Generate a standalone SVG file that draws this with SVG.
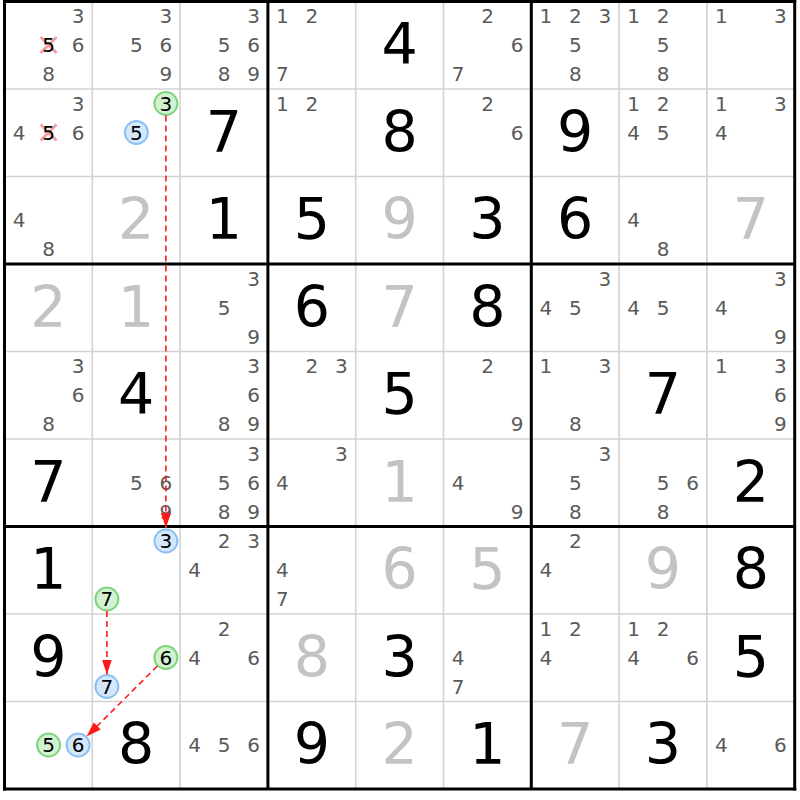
<svg xmlns="http://www.w3.org/2000/svg" width="800" height="800" viewBox="0 0 800 800">
<style>
text{font-family:"DejaVu Sans","Liberation Sans",sans-serif;text-anchor:middle}
.c{font-size:20px;fill:#5a5a5a}
.k{font-size:20px;fill:#000}
.g{font-size:57px;fill:#000}
.s{font-size:57px;fill:#c3c3c3}
.thin{stroke:#d2d2d2;stroke-width:1.6}
.thick{stroke:#000;stroke-width:3}
.gc{fill:#d2f2d2;stroke:#7ed47e;stroke-width:2}
.bc{fill:#d4e7fb;stroke:#8dc0f2;stroke-width:2}
.x{stroke:#f28c8c;stroke-width:2.6;opacity:0.85}
.link{stroke:#ff1a1a;stroke-width:1.6;stroke-dasharray:6 4;fill:none}
</style>
<defs>
<marker id="ah" markerUnits="userSpaceOnUse" markerWidth="15" markerHeight="10" refX="15" refY="5" orient="auto">
<path d="M0,0 L15,5 L0,10 z" fill="#ff1a1a"/>
</marker>
</defs>
<rect x="0" y="0" width="800" height="800" fill="#fff"/>
<g id="grid">
<g class="thin">
<line x1="92.3" y1="1.5" x2="92.3" y2="789"/><line x1="180.1" y1="1.5" x2="180.1" y2="789"/>
<line x1="355.7" y1="1.5" x2="355.7" y2="789"/><line x1="443.5" y1="1.5" x2="443.5" y2="789"/>
<line x1="619.1" y1="1.5" x2="619.1" y2="789"/><line x1="706.9" y1="1.5" x2="706.9" y2="789"/>
<line x1="4.5" y1="89" x2="794.7" y2="89"/><line x1="4.5" y1="176.5" x2="794.7" y2="176.5"/>
<line x1="4.5" y1="351.5" x2="794.7" y2="351.5"/><line x1="4.5" y1="439" x2="794.7" y2="439"/>
<line x1="4.5" y1="614" x2="794.7" y2="614"/><line x1="4.5" y1="701.5" x2="794.7" y2="701.5"/>
</g>
<g class="thick">
<line x1="4.5" y1="0" x2="4.5" y2="790.5"/><line x1="267.9" y1="1.5" x2="267.9" y2="789"/>
<line x1="531.3" y1="1.5" x2="531.3" y2="789"/><line x1="794.7" y1="0" x2="794.7" y2="790.5"/>
<line x1="3" y1="1.5" x2="796.2" y2="1.5"/><line x1="4.5" y1="264" x2="794.7" y2="264"/>
<line x1="4.5" y1="526.5" x2="794.7" y2="526.5"/><line x1="3" y1="789" x2="796.2" y2="789"/>
</g>
</g>

<!-- Row 0 -->
<g id="r0c0" transform="translate(4.5,1.5)"><text class="c" x="73.6" y="21.8">3</text><line class="x" x1="36.1" y1="35.5" x2="52.1" y2="51.5"/><line class="x" x1="52.1" y1="35.5" x2="36.1" y2="51.5"/><text class="k" x="44.1" y="50.8">5</text><text class="c" x="73.6" y="50.8">6</text><text class="c" x="44.1" y="79.8">8</text></g>
<g id="r0c1" transform="translate(92.3,1.5)"><text class="c" x="73.6" y="21.8">3</text><text class="c" x="44.1" y="50.8">5</text><text class="c" x="73.6" y="50.8">6</text><text class="c" x="73.6" y="79.8">9</text></g>
<g id="r0c2" transform="translate(180.1,1.5)"><text class="c" x="73.6" y="21.8">3</text><text class="c" x="44.1" y="50.8">5</text><text class="c" x="73.6" y="50.8">6</text><text class="c" x="44.1" y="79.8">8</text><text class="c" x="73.6" y="79.8">9</text></g>
<g id="r0c3" transform="translate(267.9,1.5)"><text class="c" x="14.6" y="21.8">1</text><text class="c" x="44.1" y="21.8">2</text><text class="c" x="14.6" y="79.8">7</text></g>
<g id="r0c4" transform="translate(355.7,1.5)"><text class="g" x="43.9" y="62.5">4</text></g>
<g id="r0c5" transform="translate(443.5,1.5)"><text class="c" x="44.1" y="21.8">2</text><text class="c" x="73.6" y="50.8">6</text><text class="c" x="14.6" y="79.8">7</text></g>
<g id="r0c6" transform="translate(531.3,1.5)"><text class="c" x="14.6" y="21.8">1</text><text class="c" x="44.1" y="21.8">2</text><text class="c" x="73.6" y="21.8">3</text><text class="c" x="44.1" y="50.8">5</text><text class="c" x="44.1" y="79.8">8</text></g>
<g id="r0c7" transform="translate(619.1,1.5)"><text class="c" x="14.6" y="21.8">1</text><text class="c" x="44.1" y="21.8">2</text><text class="c" x="44.1" y="50.8">5</text><text class="c" x="44.1" y="79.8">8</text></g>
<g id="r0c8" transform="translate(706.9,1.5)"><text class="c" x="14.6" y="21.8">1</text><text class="c" x="73.6" y="21.8">3</text></g>

<!-- Row 1 -->
<g id="r1c0" transform="translate(4.5,89)"><text class="c" x="73.6" y="21.8">3</text><text class="c" x="14.6" y="50.8">4</text><line class="x" x1="36.1" y1="35.5" x2="52.1" y2="51.5"/><line class="x" x1="52.1" y1="35.5" x2="36.1" y2="51.5"/><text class="k" x="44.1" y="50.8">5</text><text class="c" x="73.6" y="50.8">6</text></g>
<g id="r1c1" transform="translate(92.3,89)"><circle class="gc" cx="73.6" cy="14.5" r="11.5"/><text class="k" x="73.6" y="21.8">3</text><circle class="bc" cx="44.1" cy="43.5" r="11.5"/><text class="k" x="44.1" y="50.8">5</text></g>
<g id="r1c2" transform="translate(180.1,89)"><text class="g" x="43.9" y="62.5">7</text></g>
<g id="r1c3" transform="translate(267.9,89)"><text class="c" x="14.6" y="21.8">1</text><text class="c" x="44.1" y="21.8">2</text></g>
<g id="r1c4" transform="translate(355.7,89)"><text class="g" x="43.9" y="62.5">8</text></g>
<g id="r1c5" transform="translate(443.5,89)"><text class="c" x="44.1" y="21.8">2</text><text class="c" x="73.6" y="50.8">6</text></g>
<g id="r1c6" transform="translate(531.3,89)"><text class="g" x="43.9" y="62.5">9</text></g>
<g id="r1c7" transform="translate(619.1,89)"><text class="c" x="14.6" y="21.8">1</text><text class="c" x="44.1" y="21.8">2</text><text class="c" x="14.6" y="50.8">4</text><text class="c" x="44.1" y="50.8">5</text></g>
<g id="r1c8" transform="translate(706.9,89)"><text class="c" x="14.6" y="21.8">1</text><text class="c" x="73.6" y="21.8">3</text><text class="c" x="14.6" y="50.8">4</text></g>

<!-- Row 2 -->
<g id="r2c0" transform="translate(4.5,176.5)"><text class="c" x="14.6" y="50.8">4</text><text class="c" x="44.1" y="79.8">8</text></g>
<g id="r2c1" transform="translate(92.3,176.5)"><text class="s" x="43.9" y="62.5">2</text></g>
<g id="r2c2" transform="translate(180.1,176.5)"><text class="g" x="43.9" y="62.5">1</text></g>
<g id="r2c3" transform="translate(267.9,176.5)"><text class="g" x="43.9" y="62.5">5</text></g>
<g id="r2c4" transform="translate(355.7,176.5)"><text class="s" x="43.9" y="62.5">9</text></g>
<g id="r2c5" transform="translate(443.5,176.5)"><text class="g" x="43.9" y="62.5">3</text></g>
<g id="r2c6" transform="translate(531.3,176.5)"><text class="g" x="43.9" y="62.5">6</text></g>
<g id="r2c7" transform="translate(619.1,176.5)"><text class="c" x="14.6" y="50.8">4</text><text class="c" x="44.1" y="79.8">8</text></g>
<g id="r2c8" transform="translate(706.9,176.5)"><text class="s" x="43.9" y="62.5">7</text></g>

<!-- Row 3 -->
<g id="r3c0" transform="translate(4.5,264)"><text class="s" x="43.9" y="62.5">2</text></g>
<g id="r3c1" transform="translate(92.3,264)"><text class="s" x="43.9" y="62.5">1</text></g>
<g id="r3c2" transform="translate(180.1,264)"><text class="c" x="73.6" y="21.8">3</text><text class="c" x="44.1" y="50.8">5</text><text class="c" x="73.6" y="79.8">9</text></g>
<g id="r3c3" transform="translate(267.9,264)"><text class="g" x="43.9" y="62.5">6</text></g>
<g id="r3c4" transform="translate(355.7,264)"><text class="s" x="43.9" y="62.5">7</text></g>
<g id="r3c5" transform="translate(443.5,264)"><text class="g" x="43.9" y="62.5">8</text></g>
<g id="r3c6" transform="translate(531.3,264)"><text class="c" x="73.6" y="21.8">3</text><text class="c" x="14.6" y="50.8">4</text><text class="c" x="44.1" y="50.8">5</text></g>
<g id="r3c7" transform="translate(619.1,264)"><text class="c" x="14.6" y="50.8">4</text><text class="c" x="44.1" y="50.8">5</text></g>
<g id="r3c8" transform="translate(706.9,264)"><text class="c" x="73.6" y="21.8">3</text><text class="c" x="14.6" y="50.8">4</text><text class="c" x="73.6" y="79.8">9</text></g>

<!-- Row 4 -->
<g id="r4c0" transform="translate(4.5,351.5)"><text class="c" x="73.6" y="21.8">3</text><text class="c" x="73.6" y="50.8">6</text><text class="c" x="44.1" y="79.8">8</text></g>
<g id="r4c1" transform="translate(92.3,351.5)"><text class="g" x="43.9" y="62.5">4</text></g>
<g id="r4c2" transform="translate(180.1,351.5)"><text class="c" x="73.6" y="21.8">3</text><text class="c" x="73.6" y="50.8">6</text><text class="c" x="44.1" y="79.8">8</text><text class="c" x="73.6" y="79.8">9</text></g>
<g id="r4c3" transform="translate(267.9,351.5)"><text class="c" x="44.1" y="21.8">2</text><text class="c" x="73.6" y="21.8">3</text></g>
<g id="r4c4" transform="translate(355.7,351.5)"><text class="g" x="43.9" y="62.5">5</text></g>
<g id="r4c5" transform="translate(443.5,351.5)"><text class="c" x="44.1" y="21.8">2</text><text class="c" x="73.6" y="79.8">9</text></g>
<g id="r4c6" transform="translate(531.3,351.5)"><text class="c" x="14.6" y="21.8">1</text><text class="c" x="73.6" y="21.8">3</text><text class="c" x="44.1" y="79.8">8</text></g>
<g id="r4c7" transform="translate(619.1,351.5)"><text class="g" x="43.9" y="62.5">7</text></g>
<g id="r4c8" transform="translate(706.9,351.5)"><text class="c" x="14.6" y="21.8">1</text><text class="c" x="73.6" y="21.8">3</text><text class="c" x="73.6" y="50.8">6</text><text class="c" x="73.6" y="79.8">9</text></g>

<!-- Row 5 -->
<g id="r5c0" transform="translate(4.5,439)"><text class="g" x="43.9" y="62.5">7</text></g>
<g id="r5c1" transform="translate(92.3,439)"><text class="c" x="44.1" y="50.8">5</text><text class="c" x="73.6" y="50.8">6</text><text class="c" x="73.6" y="79.8">9</text></g>
<g id="r5c2" transform="translate(180.1,439)"><text class="c" x="73.6" y="21.8">3</text><text class="c" x="44.1" y="50.8">5</text><text class="c" x="73.6" y="50.8">6</text><text class="c" x="44.1" y="79.8">8</text><text class="c" x="73.6" y="79.8">9</text></g>
<g id="r5c3" transform="translate(267.9,439)"><text class="c" x="73.6" y="21.8">3</text><text class="c" x="14.6" y="50.8">4</text></g>
<g id="r5c4" transform="translate(355.7,439)"><text class="s" x="43.9" y="62.5">1</text></g>
<g id="r5c5" transform="translate(443.5,439)"><text class="c" x="14.6" y="50.8">4</text><text class="c" x="73.6" y="79.8">9</text></g>
<g id="r5c6" transform="translate(531.3,439)"><text class="c" x="73.6" y="21.8">3</text><text class="c" x="44.1" y="50.8">5</text><text class="c" x="44.1" y="79.8">8</text></g>
<g id="r5c7" transform="translate(619.1,439)"><text class="c" x="44.1" y="50.8">5</text><text class="c" x="73.6" y="50.8">6</text><text class="c" x="44.1" y="79.8">8</text></g>
<g id="r5c8" transform="translate(706.9,439)"><text class="g" x="43.9" y="62.5">2</text></g>

<!-- Row 6 -->
<g id="r6c0" transform="translate(4.5,526.5)"><text class="g" x="43.9" y="62.5">1</text></g>
<g id="r6c1" transform="translate(92.3,526.5)"><circle class="bc" cx="73.6" cy="14.5" r="11.5"/><text class="k" x="73.6" y="21.8">3</text><circle class="gc" cx="14.6" cy="72.5" r="11.5"/><text class="k" x="14.6" y="79.8">7</text></g>
<g id="r6c2" transform="translate(180.1,526.5)"><text class="c" x="44.1" y="21.8">2</text><text class="c" x="73.6" y="21.8">3</text><text class="c" x="14.6" y="50.8">4</text></g>
<g id="r6c3" transform="translate(267.9,526.5)"><text class="c" x="14.6" y="50.8">4</text><text class="c" x="14.6" y="79.8">7</text></g>
<g id="r6c4" transform="translate(355.7,526.5)"><text class="s" x="43.9" y="62.5">6</text></g>
<g id="r6c5" transform="translate(443.5,526.5)"><text class="s" x="43.9" y="62.5">5</text></g>
<g id="r6c6" transform="translate(531.3,526.5)"><text class="c" x="44.1" y="21.8">2</text><text class="c" x="14.6" y="50.8">4</text></g>
<g id="r6c7" transform="translate(619.1,526.5)"><text class="s" x="43.9" y="62.5">9</text></g>
<g id="r6c8" transform="translate(706.9,526.5)"><text class="g" x="43.9" y="62.5">8</text></g>

<!-- Row 7 -->
<g id="r7c0" transform="translate(4.5,614)"><text class="g" x="43.9" y="62.5">9</text></g>
<g id="r7c1" transform="translate(92.3,614)"><circle class="gc" cx="73.6" cy="43.5" r="11.5"/><text class="k" x="73.6" y="50.8">6</text><circle class="bc" cx="14.6" cy="72.5" r="11.5"/><text class="k" x="14.6" y="79.8">7</text></g>
<g id="r7c2" transform="translate(180.1,614)"><text class="c" x="44.1" y="21.8">2</text><text class="c" x="14.6" y="50.8">4</text><text class="c" x="73.6" y="50.8">6</text></g>
<g id="r7c3" transform="translate(267.9,614)"><text class="s" x="43.9" y="62.5">8</text></g>
<g id="r7c4" transform="translate(355.7,614)"><text class="g" x="43.9" y="62.5">3</text></g>
<g id="r7c5" transform="translate(443.5,614)"><text class="c" x="14.6" y="50.8">4</text><text class="c" x="14.6" y="79.8">7</text></g>
<g id="r7c6" transform="translate(531.3,614)"><text class="c" x="14.6" y="21.8">1</text><text class="c" x="44.1" y="21.8">2</text><text class="c" x="14.6" y="50.8">4</text></g>
<g id="r7c7" transform="translate(619.1,614)"><text class="c" x="14.6" y="21.8">1</text><text class="c" x="44.1" y="21.8">2</text><text class="c" x="14.6" y="50.8">4</text><text class="c" x="73.6" y="50.8">6</text></g>
<g id="r7c8" transform="translate(706.9,614)"><text class="g" x="43.9" y="62.5">5</text></g>

<!-- Row 8 -->
<g id="r8c0" transform="translate(4.5,701.5)"><circle class="gc" cx="44.1" cy="43.5" r="11.5"/><text class="k" x="44.1" y="50.8">5</text><circle class="bc" cx="73.6" cy="43.5" r="11.5"/><text class="k" x="73.6" y="50.8">6</text></g>
<g id="r8c1" transform="translate(92.3,701.5)"><text class="g" x="43.9" y="62.5">8</text></g>
<g id="r8c2" transform="translate(180.1,701.5)"><text class="c" x="14.6" y="50.8">4</text><text class="c" x="44.1" y="50.8">5</text><text class="c" x="73.6" y="50.8">6</text></g>
<g id="r8c3" transform="translate(267.9,701.5)"><text class="g" x="43.9" y="62.5">9</text></g>
<g id="r8c4" transform="translate(355.7,701.5)"><text class="s" x="43.9" y="62.5">2</text></g>
<g id="r8c5" transform="translate(443.5,701.5)"><text class="g" x="43.9" y="62.5">1</text></g>
<g id="r8c6" transform="translate(531.3,701.5)"><text class="s" x="43.9" y="62.5">7</text></g>
<g id="r8c7" transform="translate(619.1,701.5)"><text class="g" x="43.9" y="62.5">3</text></g>
<g id="r8c8" transform="translate(706.9,701.5)"><text class="c" x="14.6" y="50.8">4</text><text class="c" x="73.6" y="50.8">6</text></g>

<g id="links">
<line class="link" x1="165.9" y1="115.5" x2="165.9" y2="528" marker-end="url(#ah)"/>
<line class="link" x1="106.9" y1="611" x2="106.9" y2="674.5" marker-end="url(#ah)"/>
<line class="link" x1="157.4" y1="666" x2="86.6" y2="736.5" marker-end="url(#ah)"/>
</g>
</svg>
